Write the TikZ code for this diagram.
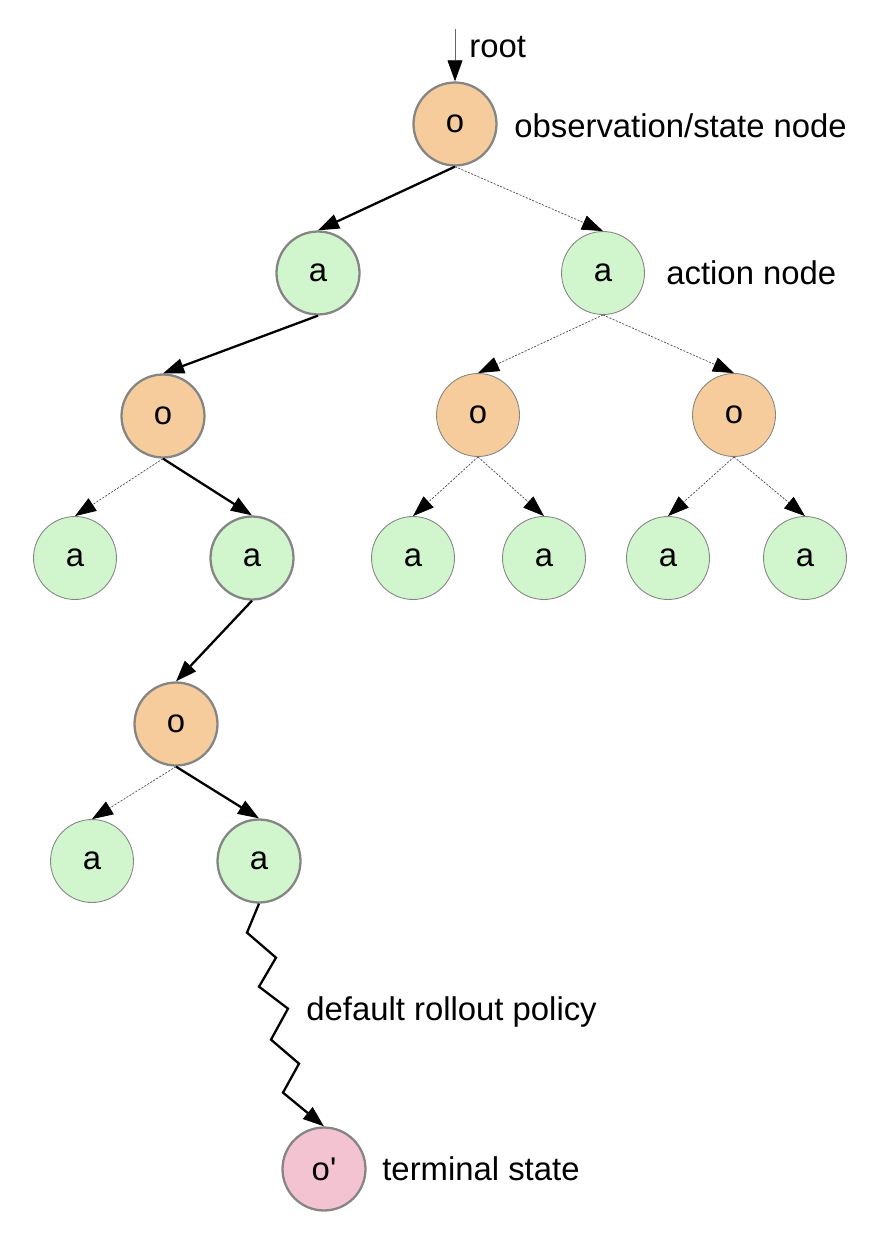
\documentclass[tikz,border=0pt]{standalone}
\usepackage{fontspec}
\setmainfont{Liberation Sans}
\usetikzlibrary{arrows.meta}
\definecolor{obsfill}{HTML}{F7CC9D}
\definecolor{actfill}{HTML}{D1F5CD}
\definecolor{termfill}{HTML}{F4C3D1}
\definecolor{rimgray}{HTML}{858585}

\begin{document}
\begin{tikzpicture}[x=0.02cm,y=-0.02cm,font=\fontsize{18.7}{22}\selectfont,
	tnode/.style={circle,minimum size=1.66cm,inner sep=0pt,draw=rimgray,line width=0.5pt},
	onpath/.style={line width=1.3pt},
	obs/.style={tnode,fill=obsfill},
	act/.style={tnode,fill=actfill},
	term/.style={tnode,fill=termfill},
	sel/.style={line width=1.3pt,-{Triangle[length=12pt,width=8.5pt]}},
	unsel/.style={line width=0.4pt,dash pattern=on 1.2pt off 0.8pt,draw=black!70,-{Triangle[length=12pt,width=8.5pt,color=black]}},
	note/.style={anchor=west,inner sep=0pt}]
						\useasboundingbox (0,0) rectangle (894,1240);
						% tree nodes
						\node[obs,onpath] (o0) at (455,124) {o};
						\node[act,onpath] (a1) at (318,273) {a};
						\node[act] (a2) at (603,273) {a};
						\node[obs,onpath] (o1) at (163,416) {o};
						\node[obs] (o2) at (478,415) {o};
						\node[obs] (o3) at (734,415) {o};
						\node[act] (a3) at (75,558) {a};
						\node[act,onpath] (a4) at (252,558) {a};
						\node[act] (a5) at (413,558) {a};
						\node[act] (a6) at (544,558) {a};
						\node[act] (a7) at (668,558) {a};
						\node[act] (a8) at (805,558) {a};
						\node[obs,onpath] (o4) at (176,724) {o};
						\node[act] (a9) at (92,861) {a};
						\node[act,onpath] (a10) at (259,861) {a};
						\node[term,onpath] (oT) at (324,1169) {o\textquotesingle};
						% labels
						\node[note] (lroot) at (469,47) {root};
						\node[note] (lobs) at (514,126) {observation/state node};
						\node[note] (lact) at (666,273) {action node};
						\node[note] (lroll) at (306,1012) {default rollout policy};
						\node[note] (lterm) at (382,1169) {terminal state};
						% root arrow
						\coordinate (rootin) at (455,29);
						\draw[line width=0.5pt,draw=black!60,-{Triangle[length=12pt,width=8.5pt,color=black]}] (rootin)--(o0.north);
						% selected path
						\draw[sel] (o0.south)--(a1.north);
						\draw[sel] (a1.south)--(o1.north);
						\draw[sel] (o1.south)--(a4.north);
						\draw[sel] (a4.south)--(o4.north);
						\draw[sel] (o4.south)--(a10.north);
						% other branches
						\draw[unsel] (o0.south)--(a2.north);
						\draw[unsel] (a2.south)--(o2.north);
						\draw[unsel] (a2.south)--(o3.north);
						\draw[unsel] (o1.south)--(a3.north);
						\draw[unsel] (o2.south)--(a5.north);
						\draw[unsel] (o2.south)--(a6.north);
						\draw[unsel] (o3.south)--(a7.north);
						\draw[unsel] (o3.south)--(a8.north);
						\draw[unsel] (o4.south)--(a9.north);
						% rollout
						\draw[sel,line join=miter] (a10.south)--++(-12,29)--++(29,25)--++(-17,29)--++(29,22)--++(-17,31)--++(28,24)--++(-16,29)--(oT.north);
					\end{tikzpicture}
\end{document}
